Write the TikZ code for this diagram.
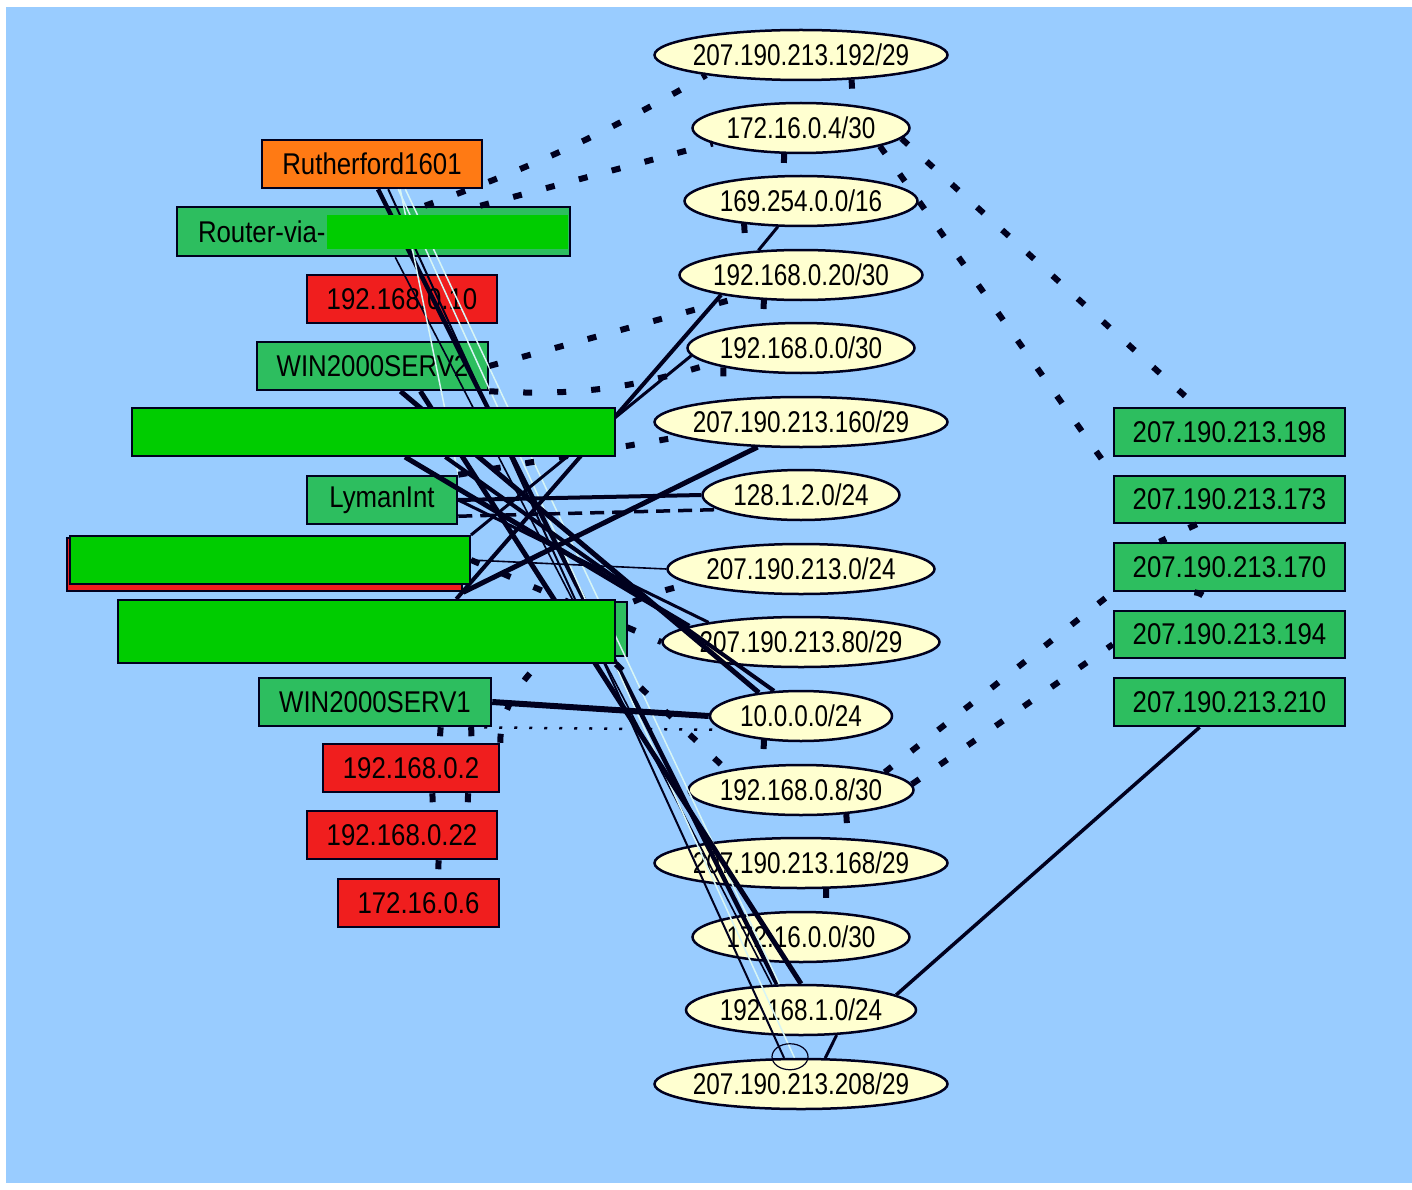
\documentclass[tikz,border=0pt]{standalone}
\usepackage{fontspec}
\newfontfamily\boxfnt[FakeStretch=0.86]{Liberation Sans}
\newfontfamily\ellfnt[FakeStretch=0.81]{Liberation Sans}
\usetikzlibrary{shapes.geometric,calc}
\definecolor{bgblue}{RGB}{153,204,255}
\definecolor{ellfill}{RGB}{255,255,208}
\definecolor{hostgreen}{RGB}{45,190,95}
\definecolor{redact}{RGB}{0,204,0}
\definecolor{hostred}{RGB}{240,30,30}
\definecolor{hostorange}{RGB}{255,122,20}
\definecolor{ink}{RGB}{0,0,30}
\definecolor{lightln}{RGB}{215,245,245}
\pgfdeclarelayer{edges}
\pgfdeclarelayer{top}
\pgfsetlayers{main,edges,top}
\newcommand\ztext[1]{\makebox[0pt]{#1}}
\tikzset{
  host/.style={draw=ink, line width=2.5pt, rectangle, inner sep=0pt, minimum height=48pt,
    font=\boxfnt\fontsize{30}{32}\selectfont, text=black},
  greenhost/.style={host, fill=hostgreen},
  redhost/.style={host, fill=hostred},
  hidebox/.style={host, fill=redact, line width=2pt},
  net/.style={draw=ink, line width=2.5pt, ellipse, fill=ellfill, inner sep=0pt,
    minimum height=50pt, font=\ellfnt\fontsize{30}{32}\selectfont, text=black},
  thickln/.style={draw=ink, line width=5pt},
  midln/.style={draw=ink, line width=3pt},
  thinln/.style={draw=ink, line width=1.6pt},
  lightline/.style={draw=lightln, line width=1.5pt},
  dotln/.style={draw=ink, line width=6pt, dash pattern=on 9pt off 25pt},
  fineDots/.style={draw=ink, line width=2.5pt, dash pattern=on 3pt off 12pt},
  dashln/.style={draw=ink, line width=3.5pt, dash pattern=on 14pt off 8pt}
}
\begin{document}
\begin{tikzpicture}[x=1pt,y=-1pt]
\useasboundingbox (0,0) rectangle (1412,1190);
\fill[white] (0,0) rectangle (1412,1190);
\fill[bgblue] (6,7) rectangle (1412,1183);

% ---------- left hosts ----------
\node[host, fill=hostorange, minimum width=220pt] (rf) at (372,164) {Rutherford1601};
\node[greenhost, minimum width=393pt, minimum height=49pt] (rv) at (373.5,231.5)
  {\makebox[393pt][l]{\hspace{21pt}Router-via-}};
\node[redhost, minimum width=190pt] (ip10) at (402,299) {192.168.0.10};
\node[greenhost, minimum width=231pt] (w2) at (372.5,366) {WIN2000SERV2};
\node[greenhost, minimum width=150pt] (ly) at (382,500) {LymanInt};
\node[redhost, minimum width=395pt, minimum height=53pt] (rr) at (264.5,564.5) {};
\node[greenhost, minimum width=497pt, minimum height=54pt] (gC) at (378.5,629) {};
\node[greenhost, minimum width=232pt] (w1) at (375,702) {WIN2000SERV1};
\node[redhost, minimum width=176pt] (ip2) at (411,768) {192.168.0.2};
\node[redhost, minimum width=190pt] (ip22) at (402,835) {192.168.0.22};
\node[redhost, minimum width=161pt] (ip6) at (418.5,903) {172.16.0.6};

% ---------- hidden (covered) hosts ----------
\begin{pgfonlayer}{top}
\node[fill=redact, inner sep=0pt, minimum width=241pt, minimum height=34pt] (rvh) at (447.5,232) {};
\node[hidebox, minimum width=483pt] (bA) at (373.5,432) {};
\node[hidebox, minimum width=400pt] (bB) at (270,560) {};
\node[hidebox, minimum width=497pt, minimum height=63pt] (bC) at (366.5,631.5) {};
\end{pgfonlayer}

% ---------- networks ----------
\node[net, minimum width=293pt] (e1) at (801,55) {\ztext{207.190.213.192/29}};
\node[net, minimum width=217pt] (e2) at (801,128) {\ztext{172.16.0.4/30}};
\node[net, minimum width=233pt] (e3) at (801,201) {\ztext{169.254.0.0/16}};
\node[net, minimum width=243pt] (e4) at (801,275) {\ztext{192.168.0.20/30}};
\node[net, minimum width=227pt] (e5) at (801,348) {\ztext{192.168.0.0/30}};
\node[net, minimum width=293pt] (e6) at (801,422) {\ztext{207.190.213.160/29}};
\node[net, minimum width=197pt] (e7) at (801,495) {\ztext{128.1.2.0/24}};
\node[net, minimum width=267pt] (e8) at (801,569) {\ztext{207.190.213.0/24}};
\node[net, minimum width=277pt] (e9) at (801,642) {\ztext{207.190.213.80/29}};
\node[net, minimum width=182pt] (e10) at (801,716) {\ztext{10.0.0.0/24}};
\node[net, minimum width=225pt] (e11) at (801,790) {\ztext{192.168.0.8/30}};
\node[net, minimum width=293pt] (e12) at (801,863) {\ztext{207.190.213.168/29}};
\node[net, minimum width=217pt] (e13) at (801,937) {\ztext{172.16.0.0/30}};
\node[net, minimum width=230pt] (e14) at (801,1010) {\ztext{192.168.1.0/24}};
\node[net, minimum width=293pt] (e15) at (801,1084) {\ztext{207.190.213.208/29}};

% ---------- right hosts ----------
\node[greenhost, minimum width=231pt] (r198) at (1229.5,432) {207.190.213.198};
\node[greenhost, minimum width=231pt, minimum height=47pt] (r173) at (1229.5,499.5) {207.190.213.173};
\node[greenhost, minimum width=231pt] (r170) at (1229.5,567) {207.190.213.170};
\node[greenhost, minimum width=231pt, minimum height=47pt] (r194) at (1229.5,634.5) {207.190.213.194};
\node[greenhost, minimum width=231pt] (r210) at (1229.5,702) {207.190.213.210};

% ---------- connectors ----------
\begin{pgfonlayer}{edges}
% long bundle from the top-left hosts
\draw[thickln, line width=4.5pt] ($(rf.south west)!0.527!(rf.south east)$) -- (e14.133);
\draw[thinln, line width=2pt] ($(rf.south west)!0.573!(rf.south east)$) -- (e15.123);
\draw[thinln] ($(rv.south west)!0.555!(rv.south east)$) -- (e14.139);
\draw[lightline] ($(rf.south west)!0.618!(rf.south east)$) -- (e15.104);
\draw[lightline] ($(rf.south west)!0.65!(rf.south east)$) -- (e14.130);
\draw[lightline] ($(rf.south west)!0.627!(rf.south east)$) -- (ly.north east);
\draw[ink, line width=1.2pt] ($(e15.north)+(-11,-1)$) ellipse [x radius=18, y radius=13];
% thick lines into the middle networks
\draw[thickln] ($(w2.south west)!0.62!(w2.south east)$) -- (e10.151);
\draw[thickln] ($(w2.south west)!0.705!(w2.south east)$) -- (e14.north);
\draw[thickln] ($(bA.south west)!0.565!(bA.south east)$) -- (e9.172);
\draw[thickln, line width=4pt] ($(bA.south west)!0.648!(bA.south east)$) -- (e10.137);
\draw[midln] (ly.east) -- (e9.168);
\draw[thickln, line width=4pt] (ly.east) -- (e7.west);
\draw[dashln] (ly.-12) -- (e7.190);
\draw[thinln] (bB.east) -- (e8.west);
\draw[thickln] (rr.south east) -- (e6.210);
\draw[thickln, line width=4pt] (e4.194) -- ($(bC.north west)!0.68!(bC.north east)$);
\draw[midln] (e5.184) -- (bB.north east);
\draw[midln] (e3.228) -- (e4.150);
\draw[thickln, line width=6pt] (w1.east) -- (e10.west);
\draw[fineDots] (w1.-15) -- (e10.190);
\draw[thickln, line width=3.5pt] (e14.9) -- ($(r210.south west)!0.372!(r210.south east)$);
\draw[midln] (e14.-35) -- (e15.47);
% dotted connectors, upper part
\draw[dotln] ($(rv.north west)!0.63!(rv.north east)$) to[bend right=5] (e1.192);
\draw[dotln] ($(rv.north west)!0.77!(rv.north east)$) -- (e2.190);
\draw[dotln] (e2.-6) -- ($(r198.north west)!0.36!(r198.north east)$);
\draw[dotln] (e2.-13) -- (r173.north west);
\draw[dotln] (w2.east) -- (e4.200);
\draw[dotln] (w2.south east) to[bend right=10] (e5.190);
\draw[dotln] (ly.north east) -- (e6.187);
\draw[dotln] (bB.east) -- (e9.180);
\draw[dotln] (bC.south east) -- (e11.165);
\draw[dotln] (ip2.north east) .. controls +(0,-80) and +(-70,10) .. (e8.188);
% dotted connectors, lower right
\draw[dotln] (e11.12) -- (r170.south west);
\draw[dotln] (e11.3) -- ($(r194.south west)!0.3!(r194.north west)$);
\draw[dotln] ($(r173.south west)!0.36!(r173.south east)$) -- ($(r170.north west)!0.2!(r170.north east)$);
\draw[dotln] ($(r170.south west)!0.35!(r170.south east)$) to[bend left=40] ($(r194.north west)!0.42!(r194.north east)$);
% dotted connectors between networks
\draw[dotln] (e1.-26) -- (e2.24);
\draw[dotln] (e2.237) -- (e3.124);
\draw[dotln] (e3.202) -- (e4.157);
\draw[dotln] (e4.214) -- (e5.147);
\draw[dotln] (e5.194) -- (e6.164);
\draw[dotln] (e10.213) -- (e11.147);
\draw[dotln] (e11.-28) -- (e12.28);
\draw[dotln] (e12.-46) -- (e13.45);
% dotted connectors between the red hosts
\draw[dotln] ($(w1.south west)!0.78!(w1.south east)$) -- ($(ip2.north west)!0.66!(ip2.north east)$);
\draw[dotln] ($(w1.south west)!0.91!(w1.south east)$) -- ($(ip2.north west)!0.84!(ip2.north east)$);
\draw[dotln] ($(ip2.south west)!0.62!(ip2.south east)$) -- ($(ip22.north west)!0.66!(ip22.north east)$);
\draw[dotln] ($(ip2.south west)!0.82!(ip2.south east)$) -- ($(ip22.north west)!0.84!(ip22.north east)$);
\draw[dotln] ($(ip22.south west)!0.69!(ip22.south east)$) -- ($(ip6.north west)!0.62!(ip6.north east)$);
\end{pgfonlayer}
\end{tikzpicture}
\end{document}
